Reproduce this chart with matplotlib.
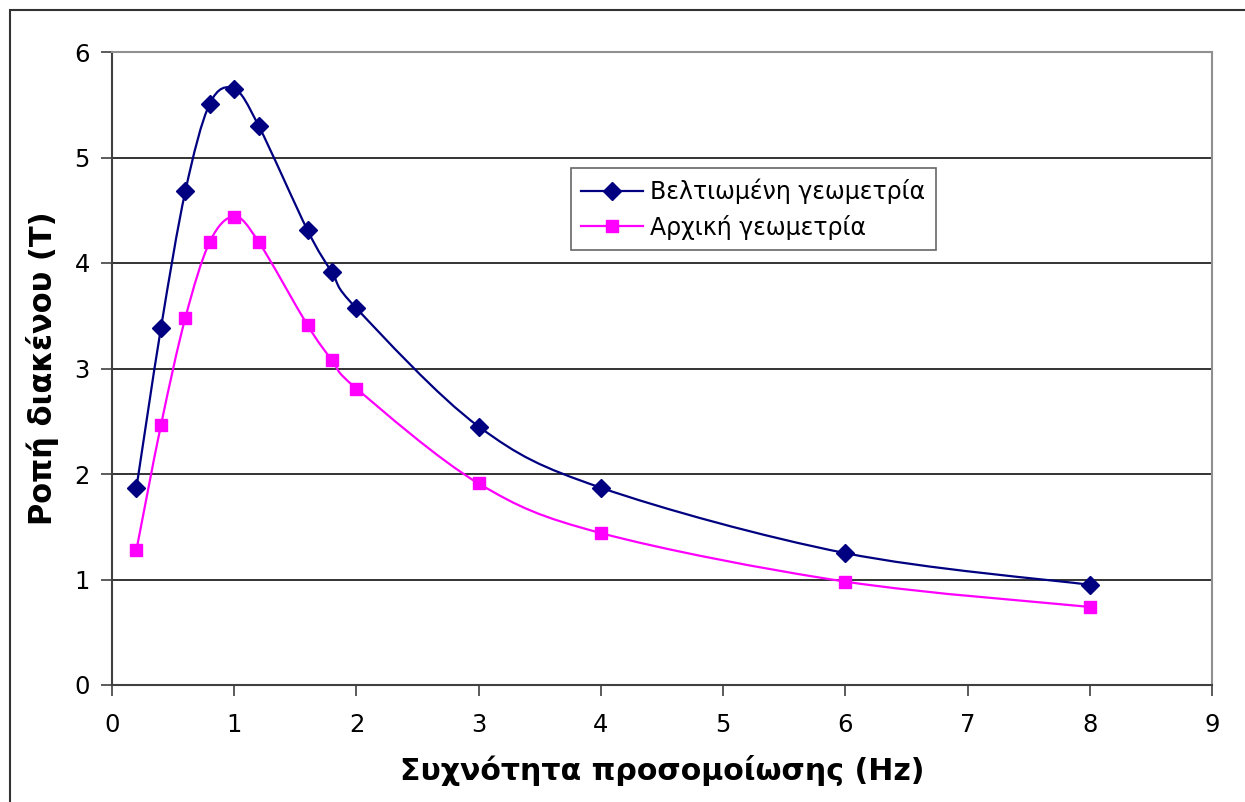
import numpy as np
import matplotlib
matplotlib.use("Agg")
import matplotlib.pyplot as plt
from matplotlib.path import Path
from matplotlib.patches import PathPatch, Rectangle

# data
freq = [0.2, 0.4, 0.6, 0.8, 1.0, 1.2, 1.6, 1.8, 2.0, 3.0, 4.0, 6.0, 8.0]
improved = [1.87, 3.38, 4.68, 5.51, 5.65, 5.30, 4.31, 3.91, 3.57, 2.45, 1.87, 1.25, 0.95]
original = [1.28, 2.46, 3.48, 4.20, 4.44, 4.20, 3.41, 3.08, 2.81, 1.91, 1.44, 0.98, 0.74]

label_improved = "Βελτιωμένη γεωμετρία"
label_original = "Αρχική γεωμετρία"
xlabel = "Συχνότητα προσομοίωσης (Hz)"
ylabel = "Ροπή διακένου (T)"

NAVY = "#000080"
MAGENTA = "#FF00FF"

plt.rcParams['font.family'] = ['DejaVu Sans']


def smooth_path(xs, ys):
    # Excel-like smoothed line: cubic bezier segments (Catmull-Rom control points)
    pts = np.column_stack([xs, ys]).astype(float)
    n = len(pts)
    verts = [pts[0]]
    codes = [Path.MOVETO]
    for i in range(n - 1):
        p0 = pts[max(i - 1, 0)]
        p1 = pts[i]
        p2 = pts[i + 1]
        p3 = pts[min(i + 2, n - 1)]
        c1 = p1 + (p2 - p0) / 6.0
        c2 = p2 - (p3 - p1) / 6.0
        verts += [c1, c2, p2]
        codes += [Path.CURVE4] * 3
    return Path(verts, codes)


fig = plt.figure(figsize=(12.45, 8.02), dpi=100)
ax = fig.add_axes([112 / 1245, 117 / 802, 1100 / 1245, 633 / 802])

# outer chart border
fig.patches.append(Rectangle((10 / 1245, -0.05), 1.2, (792 / 802) + 0.05,
                             transform=fig.transFigure, fill=False,
                             edgecolor="#333333", linewidth=1.5))

for ys, col in [(improved, NAVY), (original, MAGENTA)]:
    ax.add_patch(PathPatch(smooth_path(freq, ys), facecolor="none",
                           edgecolor=col, linewidth=1.6, zorder=3))

ax.plot(freq, improved, linestyle="none", marker="D", markersize=9,
        color=NAVY, zorder=4)
ax.plot(freq, original, linestyle="none", marker="s", markersize=8.8,
        color=MAGENTA, zorder=4)

# legend proxies
ax.plot([], [], color=NAVY, marker="D", markersize=9, linewidth=1.6, label=label_improved)
ax.plot([], [], color=MAGENTA, marker="s", markersize=8.8, linewidth=1.6, label=label_original)

ax.set_xlim(0, 9)
ax.set_ylim(0, 6)
ax.set_xticks(range(0, 10))
ax.set_yticks(range(0, 7))
ax.yaxis.grid(True, color="#101010", linewidth=1.2)
ax.set_axisbelow(True)

for s in ["left", "bottom"]:
    ax.spines[s].set_color("#404040")
    ax.spines[s].set_linewidth(1.5)
for s in ["top", "right"]:
    ax.spines[s].set_color("#909090")
    ax.spines[s].set_linewidth(1.5)

ax.tick_params(axis="both", direction="out", length=8, width=1.2,
               color="#404040", labelsize=17.5)
ax.tick_params(axis="x", pad=12)
ax.tick_params(axis="y", pad=8)

ax.set_xlabel(xlabel, fontsize=21.6, fontweight="bold", labelpad=13)
ax.set_ylabel(ylabel, fontsize=22, fontweight="bold", labelpad=11)

leg = ax.legend(loc="upper left", bbox_to_anchor=(447 / 1100, 1 - 104 / 633),
                fontsize=17, frameon=True, fancybox=False, handlelength=2.6,
                handletextpad=0.3, borderpad=0.45, labelspacing=0.45)
leg.get_frame().set_edgecolor("#404040")
leg.get_frame().set_linewidth(1.2)

fig.savefig("out.png", dpi=100)
